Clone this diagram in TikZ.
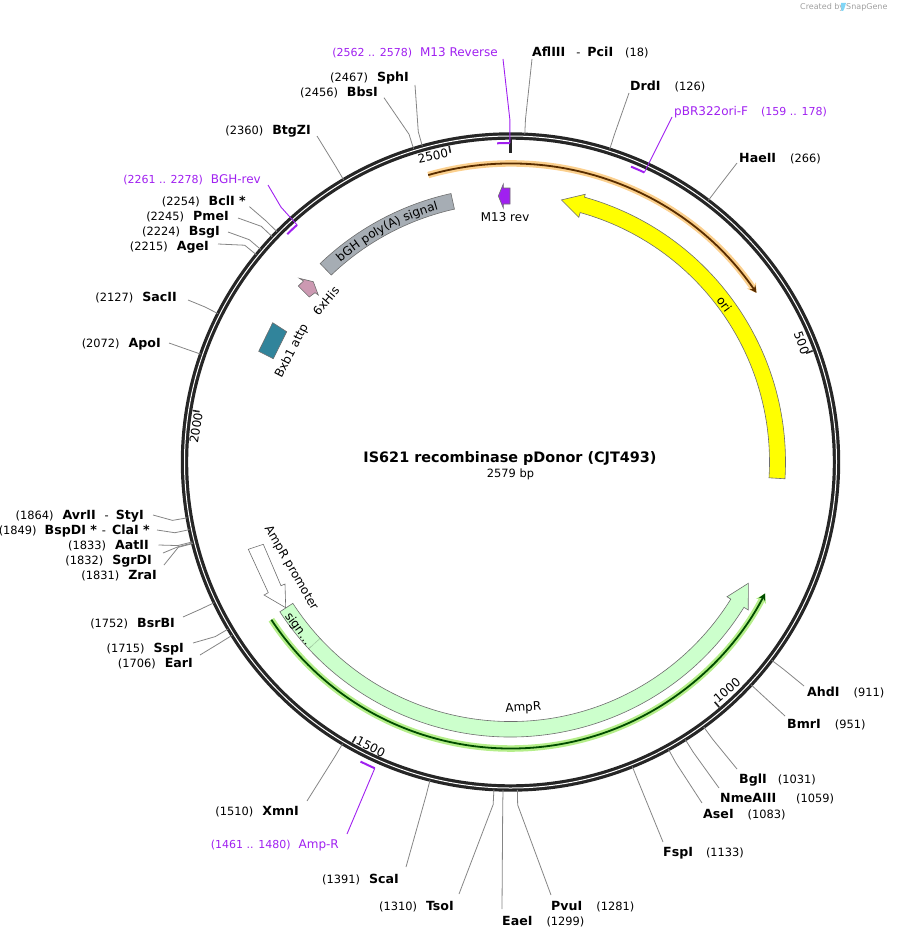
\documentclass[tikz,border=0pt]{standalone}
\usepackage{fontspec}
\setmainfont{DejaVu Sans}
\usetikzlibrary{arrows.meta,calc,decorations.text}
\definecolor{ringc}{HTML}{262626}
\definecolor{leadc}{HTML}{858585}
\definecolor{primc}{HTML}{A020F0}
\definecolor{edgec}{HTML}{6E6E6E}
\definecolor{oric}{HTML}{FFFF00}
\definecolor{ampc}{HTML}{CCFFCC}
\definecolor{bghc}{HTML}{A6ADB4}
\definecolor{hisc}{HTML}{CC99B2}
\definecolor{bxbc}{HTML}{31849B}
\definecolor{orangec}{HTML}{FBD08E}
\definecolor{greenc}{HTML}{B5EE8A}
\newcommand{\nm}[1]{{\fontsize{12.6}{14}\selectfont\bfseries #1}}
\newcommand{\pn}[1]{{\fontsize{12}{14}\selectfont #1}}

\begin{document}
\begin{tikzpicture}[
  x=1pt, y=-1pt,
  ringnd/.style={circle, draw=ringc, line width=3.2pt, double=white,
                 double distance=1pt, minimum size=652pt, inner sep=0pt},
  site/.style={inner sep=0pt, text height=10.5pt, text depth=2pt,
               font=\fontsize{11.4}{13}\selectfont},
  lt/.style={site, anchor=east},
  rt/.style={site, anchor=west},
  plt/.style={lt, text=primc, font=\fontsize{11}{13}\selectfont},
  prt/.style={rt, text=primc, font=\fontsize{11}{13}\selectfont},
  lead/.style={draw=leadc, line width=0.8pt},
  prim/.style={draw=primc, line width=0.9pt},
  pmark/.style={draw=primc, line width=2pt},
  feat/.style={draw=edgec, line width=0.6pt},
  ftxt/.style={inner sep=0pt, font=\fontsize{12}{14}\selectfont},
  stick/.style={draw=ringc, line width=1.6pt},
  gtxt/.style={inner sep=0pt, font=\fontsize{8}{10}\selectfont, text=gray!75}
]
  \useasboundingbox (0,0) rectangle (898,939);

  \node[ringnd] (ring) at (510.5,462) {};

  \node[gtxt, anchor=west] (made) at (800,7) {Created by};
  \node[gtxt, anchor=west] (snap) at (846,7) {SnapGene};
  \fill[cyan!50] (841,3) -- (846,3) -- (844.5,8) -- (843,11) -- (841.5,11) -- cycle;

  \node[inner sep=0pt, font=\fontsize{14.4}{18}\selectfont\bfseries] (title) at (510,459) {IS621 recombinase pDonor (CJT493)};
  \node[site] (size) at (510.5,473) {2579 bp};

  \node[rt] (afl) at (532,52) {\nm{AflIII}\hspace{11pt}-\hspace{7pt}\nm{PciI}\hspace{12pt}(18)};
  \node[rt] (drd) at (630,86) {\nm{DrdI}\hspace{14pt}(126)};
  \node[rt] (hae) at (739,158) {\nm{HaeII}\hspace{14pt}(266)};
  \node[rt] (ahd) at (807,692) {\nm{AhdI}\hspace{14pt}(911)};
  \node[rt] (bmr) at (787,724) {\nm{BmrI}\hspace{14pt}(951)};
  \node[rt] (bgl) at (739,779) {\nm{BglI}\hspace{11pt}(1031)};
  \node[rt] (nme) at (720,798) {\nm{NmeAIII}\hspace{20pt}(1059)};
  \node[rt] (ase) at (703,814) {\nm{AseI}\hspace{14pt}(1083)};
  \node[rt] (fsp) at (663,852) {\nm{FspI}\hspace{13pt}(1133)};
  \node[rt] (pvu) at (551,906) {\nm{PvuI}\hspace{14pt}(1281)};
  \node[rt] (eae) at (502,921) {\nm{EaeI}\hspace{14pt}(1299)};

  \node[lt] (tso) at (454,906) {(1310)\hspace{9pt}\nm{TsoI}};
  \node[lt] (sca) at (399,879) {(1391)\hspace{9pt}\nm{ScaI}};
  \node[lt] (xmn) at (299,811) {(1510)\hspace{9pt}\nm{XmnI}};
  \node[lt] (ear) at (193,663) {(1706)\hspace{9pt}\nm{EarI}};
  \node[lt] (ssp) at (184,648) {(1715)\hspace{9pt}\nm{SspI}};
  \node[lt] (bsr) at (175,623) {(1752)\hspace{9pt}\nm{BsrBI}};
  \node[lt] (zra) at (157,575) {(1831)\hspace{9pt}\nm{ZraI}};
  \node[lt] (sgr) at (152,560) {(1832)\hspace{9pt}\nm{SgrDI}};
  \node[lt] (aat) at (149,545) {(1833)\hspace{9pt}\nm{AatII}};
  \node[lt] (bsp) at (150,530) {(1849)\hspace{8pt}\nm{BspDI *}\hspace{5pt}-\hspace{6pt}\nm{ClaI *}};
  \node[lt] (avr) at (144,515) {(1864)\hspace{9pt}\nm{AvrII}\hspace{9pt}-\hspace{7pt}\nm{StyI}};
  \node[lt] (apo) at (161,343) {(2072)\hspace{9pt}\nm{ApoI}};
  \node[lt] (sac) at (177,297) {(2127)\hspace{9pt}\nm{SacII}};
  \node[lt] (age) at (209,246) {(2215)\hspace{9pt}\nm{AgeI}};
  \node[lt] (bsg) at (220,231) {(2224)\hspace{9pt}\nm{BsgI}};
  \node[lt] (pme) at (229,216) {(2245)\hspace{9pt}\nm{PmeI}};
  \node[lt] (bcl) at (246,201) {(2254)\hspace{9pt}\nm{BclI *}};
  \node[lt] (btg) at (311,130) {(2360)\hspace{9pt}\nm{BtgZI}};
  \node[lt] (bbs) at (378,92) {(2456)\hspace{9pt}\nm{BbsI}};
  \node[lt] (sph) at (409,77) {(2467)\hspace{9pt}\nm{SphI}};

  \node[plt] (m13p) at (498,52) {(2562 .. 2578)\hspace{8pt}\pn{M13 Reverse}};
  \node[prt] (orip) at (674,111) {\pn{pBR322ori-F}\hspace{13pt}(159 .. 178)};
  \node[plt] (bghp) at (261,179) {(2261 .. 2278)\hspace{8pt}\pn{BGH-rev}};
  \node[plt] (ampp) at (339,844) {(1461 .. 1480)\hspace{8pt}\pn{Amp-R}};

  \node[ftxt, rotate=-70] (t500) at (801.7,343) {500};
  \node[ftxt, rotate=40] (t1000) at (727,690) {1000};
  \node[ftxt, rotate=-27] (t1500) at (370.7,746.7) {1500};
  \node[ftxt, rotate=81] (t2000) at (196,428) {2000};
  \node[ftxt, rotate=12] (t2500) at (433,156) {2500};

  \begin{scope}[shift={(510.5,462)}, y=1pt]
    \draw[line width=6.5pt, orangec, -{Stealth[length=9pt,width=11pt]}] (106:298.5) arc[start angle=106, end angle=34.5, radius=298.5];
    \draw[line width=1.8pt, black!65!orange, -{Stealth[length=7pt,width=7pt]}] (106:298.5) arc[start angle=106, end angle=34.5, radius=298.5];
    \draw[line width=6.5pt, greenc, -{Stealth[length=9pt,width=11pt]}] (-146.6:286.5) arc[start angle=-146.6, end angle=-27.3, radius=286.5];
    \draw[line width=1.8pt, black!70!green, -{Stealth[length=7pt,width=7pt]}] (-146.6:286.5) arc[start angle=-146.6, end angle=-27.3, radius=286.5];

    \draw[feat, fill=oric] (-3.5:259) arc[start angle=-3.5, end angle=74.4, radius=259] -- (74.4:254) -- (79:267) -- (74.4:278) -- (74.4:275) arc[start angle=74.4, end angle=-3.5, radius=275] -- cycle;
    \draw[feat, fill=ampc] (-147:259.5) arc[start angle=-147, end angle=-31.9, radius=259.5] -- (-31.9:255) -- (-27:267) -- (-31.9:280) -- (-31.9:275) arc[start angle=-31.9, end angle=-147, radius=275] -- cycle;
    \draw[densely dotted, black] (-137.2:259.5) -- (-137.2:275);
    \draw[feat, fill=bghc] (133.8:259) arc[start angle=133.8, end angle=102.5, radius=259] -- (102.5:275) arc[start angle=102.5, end angle=133.8, radius=275] -- cycle;
    \path[decorate, decoration={text along path, text align=center, text={|\fontsize{12}{14}\selectfont|bGH poly(A) signal}}] (133.8:262.5) arc[start angle=133.8, end angle=102.5, radius=262.5];

    \draw[stick] (20.2:322) -- (20.2:315);
    \draw[stick] (-49.6:322) -- (-49.6:315);
    \draw[stick] (-119.4:322) -- (-119.4:315);
    \draw[stick] (-189.2:322) -- (-189.2:315);
    \draw[stick] (-259:322) -- (-259:315);
    \draw[draw=ringc, line width=3pt] (90:325) -- (90:309);

    \coordinate (m13m) at (90.1:319);
    \coordinate (orim) at (65.2:319);
    \coordinate (bghm) at (132:319);
    \coordinate (ampm) at (-113.9:335);
    \draw[pmark] (92.4:319) arc[start angle=92.4, end angle=90.1, radius=319];
    \draw[pmark] (67.8:319) arc[start angle=67.8, end angle=65.2, radius=319];
    \draw[pmark] (134.4:319) arc[start angle=134.4, end angle=132, radius=319];
    \draw[pmark] (-116.6:335) arc[start angle=-116.6, end angle=-113.9, radius=335];

    \draw[prim] (m13p.east) ++(5,-7) -- (90.1:342) -- (m13m);
    \draw[prim] (orip.west) ++(-2,-6) -- (orim);
    \draw[prim] (bghp.east) ++(7,-6) -- (132:343) -- (bghm);
    \draw[prim] (ampp.east) ++(8,10) -- (ampm);

    \draw[lead] (afl.west) ++(0,-7) -- (87.5:343) -- ($(ring.center)+(87.5:328)$);
    \draw[lead] (drd.west) ++(-1,-7) -- (72.4:343) -- ($(ring.center)+(72.4:328)$);
    \draw[lead] (hae.west) ++(-2,-5) -- (52.9:343) -- ($(ring.center)+(52.9:328)$);
    \draw[lead] (ahd.west) ++(-3,6) -- (-37.2:343) -- ($(ring.center)+(-37.2:328)$);
    \draw[lead] (bmr.west) ++(-2,8) -- (-42.8:343) -- ($(ring.center)+(-42.8:328)$);
    \draw[lead] (bgl.west) ++(-2,10) -- (-53.9:343) -- ($(ring.center)+(-53.9:328)$);
    \draw[lead] (nme.west) ++(-1,10) -- (-57.8:343) -- ($(ring.center)+(-57.8:328)$);
    \draw[lead] (ase.west) ++(-1,11) -- (-61.2:343) -- ($(ring.center)+(-61.2:328)$);
    \draw[lead] (fsp.west) ++(0,10) -- (-68.2:343) -- ($(ring.center)+(-68.2:328)$);
    \draw[lead] (pvu.west) ++(0,11) -- (-88.8:343) -- ($(ring.center)+(-88.8:328)$);
    \draw[lead] (eae.west) ++(0,12) -- (-91.3:343) -- ($(ring.center)+(-91.3:328)$);
    \draw[lead] (tso.east) ++(5,12) -- (-92.9:343) -- ($(ring.center)+(-92.9:328)$);
    \draw[lead] (sca.east) ++(7,12) -- (-104.2:343) -- ($(ring.center)+(-104.2:328)$);
    \draw[lead] (xmn.east) ++(8,10) -- (-120.8:343) -- ($(ring.center)+(-120.8:328)$);
    \draw[lead] (ear.east) ++(7,8) -- (-148.1:343) -- ($(ring.center)+(-148.1:328)$);
    \draw[lead] (ssp.east) ++(9,5) -- (-149.4:343) -- ($(ring.center)+(-149.4:328)$);
    \draw[lead] (bsr.east) ++(8,6) -- (-154.6:343) -- ($(ring.center)+(-154.6:328)$);
    \draw[lead] (zra.east) ++(7,10) -- (-165.6:343) -- ($(ring.center)+(-165.6:328)$);
    \draw[lead] (sgr.east) ++(11,7) -- (-165.7:343) -- ($(ring.center)+(-165.7:328)$);
    \draw[lead] (aat.east) ++(9.5,0) -- (-165.9:343) -- ($(ring.center)+(-165.9:328)$);
    \draw[lead] (bsp.east) ++(7,0) -- (-168.1:343) -- ($(ring.center)+(-168.1:328)$);
    \draw[lead] (avr.east) ++(9,0) -- (-170.2:343) -- ($(ring.center)+(-170.2:328)$);
    \draw[lead] (apo.east) ++(8,0) -- (160.8:343) -- ($(ring.center)+(160.8:328)$);
    \draw[lead] (sac.east) ++(11,-3) -- (153.1:343) -- ($(ring.center)+(153.1:328)$);
    \draw[lead] (age.east) ++(9,2) -- (140.8:343) -- ($(ring.center)+(140.8:328)$);
    \draw[lead] (bsg.east) ++(8,-1) -- (139.6:343) -- ($(ring.center)+(139.6:328)$);
    \draw[lead] (pme.east) ++(9,-2) -- (136.6:343) -- ($(ring.center)+(136.6:328)$);
    \draw[lead] (bcl.east) ++(3.5,-5.7) -- (135.4:343) -- ($(ring.center)+(135.4:328)$);
    \draw[lead] (btg.east) ++(6,-6) -- (120.6:343) -- ($(ring.center)+(120.6:328)$);
    \draw[lead] (bbs.east) ++(6,-5.7) -- (107.2:343) -- ($(ring.center)+(107.2:328)$);
    \draw[lead] (sph.east) ++(6,-8) -- (105.6:343) -- ($(ring.center)+(105.6:328)$);
  \end{scope}

  \draw[feat, fill=white] (248.3,549.3) -- (263.3,544.3) -- (281,585.7) -- (285,584) -- (285.7,607.7) -- (264,595) -- (268.3,592.7) -- cycle;
  \draw[feat, fill=hisc] (298.3,286) -- (303.5,281) -- (299.3,278.3) -- (313.3,281.7) -- (318.3,295) -- (315,292.7) -- (309.3,297) -- cycle;
  \draw[feat, fill=bxbc] (272.7,322.7) -- (286.7,331.7) -- (273.3,358.7) -- (258.7,351.3) -- cycle;
  \draw[feat, fill=primc] (498.3,196) -- (503.3,184) -- (503.3,188) -- (510,188) -- (510,204) -- (503.3,204) -- (503.3,208) -- cycle;

  \node[ftxt, rotate=-53.5] (ori) at (724.3,304) {ori};
  \node[ftxt, rotate=3] (amp) at (523.3,708.3) {AmpR};
  \node[ftxt, rotate=-60] (prom) at (291,568) {AmpR promoter};
  \node[ftxt, rotate=-54] (sgn) at (298,629) {sign…};
  \node[ftxt, rotate=50] (his) at (326,301) {6xHis};
  \node[ftxt, rotate=63] (bxb) at (292,351) {Bxb1 attp};
  \node[ftxt, rotate=1] (m13) at (505,217) {M13 rev};
\end{tikzpicture}
\end{document}
